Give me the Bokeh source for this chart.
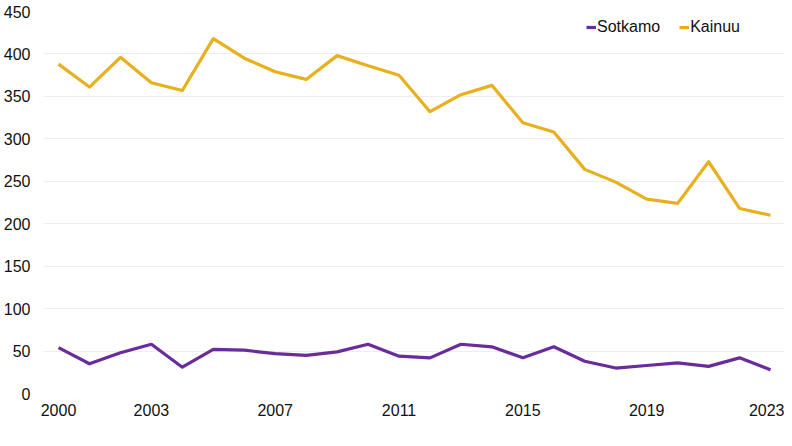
from bokeh.plotting import figure
from bokeh.models import FixedTicker, Range1d, Legend, LegendItem
from bokeh.embed import file_html
from bokeh.resources import INLINE

years = list(range(2000, 2024))
sotkamo = [54, 35, 48, 58, 31, 52, 51, 47, 45, 49, 58, 44, 42, 58, 55, 42, 55, 38, 30, 33, 36, 32, 42, 28]
kainuu = [388, 361, 396, 366, 357, 418, 395, 379, 370, 398, 386, 375, 332, 352, 363, 319, 308, 264, 249, 229, 224, 273, 218, 210]
x_ticks = [2000, 2003, 2007, 2011, 2015, 2019, 2023]
y_ticks = [0, 50, 100, 150, 200, 250, 300, 350, 400, 450]

FONT = "Liberation Sans"
PURPLE = "#6a2c9a"
GOLD = "#e9b01e"

p = figure(width=784, height=438, output_backend="svg", toolbar_location=None,
           x_range=Range1d(1999.515, 2023.452), y_range=Range1d(0, 450),
           min_border_left=43, min_border_right=0, min_border_top=11, min_border_bottom=45)
p.outline_line_color = None
p.background_fill_color = "white"
p.border_fill_color = "white"

r1 = p.line(years, sotkamo, line_color=PURPLE, line_width=3.2, line_join="round")
r2 = p.line(years, kainuu, line_color=GOLD, line_width=3.2, line_join="round")

p.xaxis.ticker = FixedTicker(ticks=x_ticks)
p.yaxis.ticker = FixedTicker(ticks=y_ticks)
for ax in (p.xaxis[0], p.yaxis[0]):
    ax.axis_line_color = None
    ax.major_tick_line_color = None
    ax.minor_tick_line_color = None
    ax.major_tick_out = 0
    ax.major_tick_in = 0
    ax.major_label_text_font = FONT
    ax.major_label_text_font_size = "16px"
    ax.major_label_text_color = "#111111"
p.xaxis.major_label_standoff = 10
p.yaxis.major_label_standoff = 13

p.xgrid.grid_line_color = None
p.ygrid.grid_line_color = "#eeeeee"
p.ygrid.grid_line_width = 1

legend = Legend(items=[LegendItem(label="Sotkamo", renderers=[r1]),
                       LegendItem(label="Kainuu", renderers=[r2])],
                orientation="horizontal", location=(543, 356),
                border_line_color=None, background_fill_alpha=0,
                glyph_width=10, glyph_height=20, label_standoff=1, spacing=19,
                padding=0, margin=0,
                label_text_font=FONT, label_text_font_size="16px",
                label_text_color="#111111")
p.add_layout(legend)

open("out.html", "w").write(file_html(p, INLINE))
